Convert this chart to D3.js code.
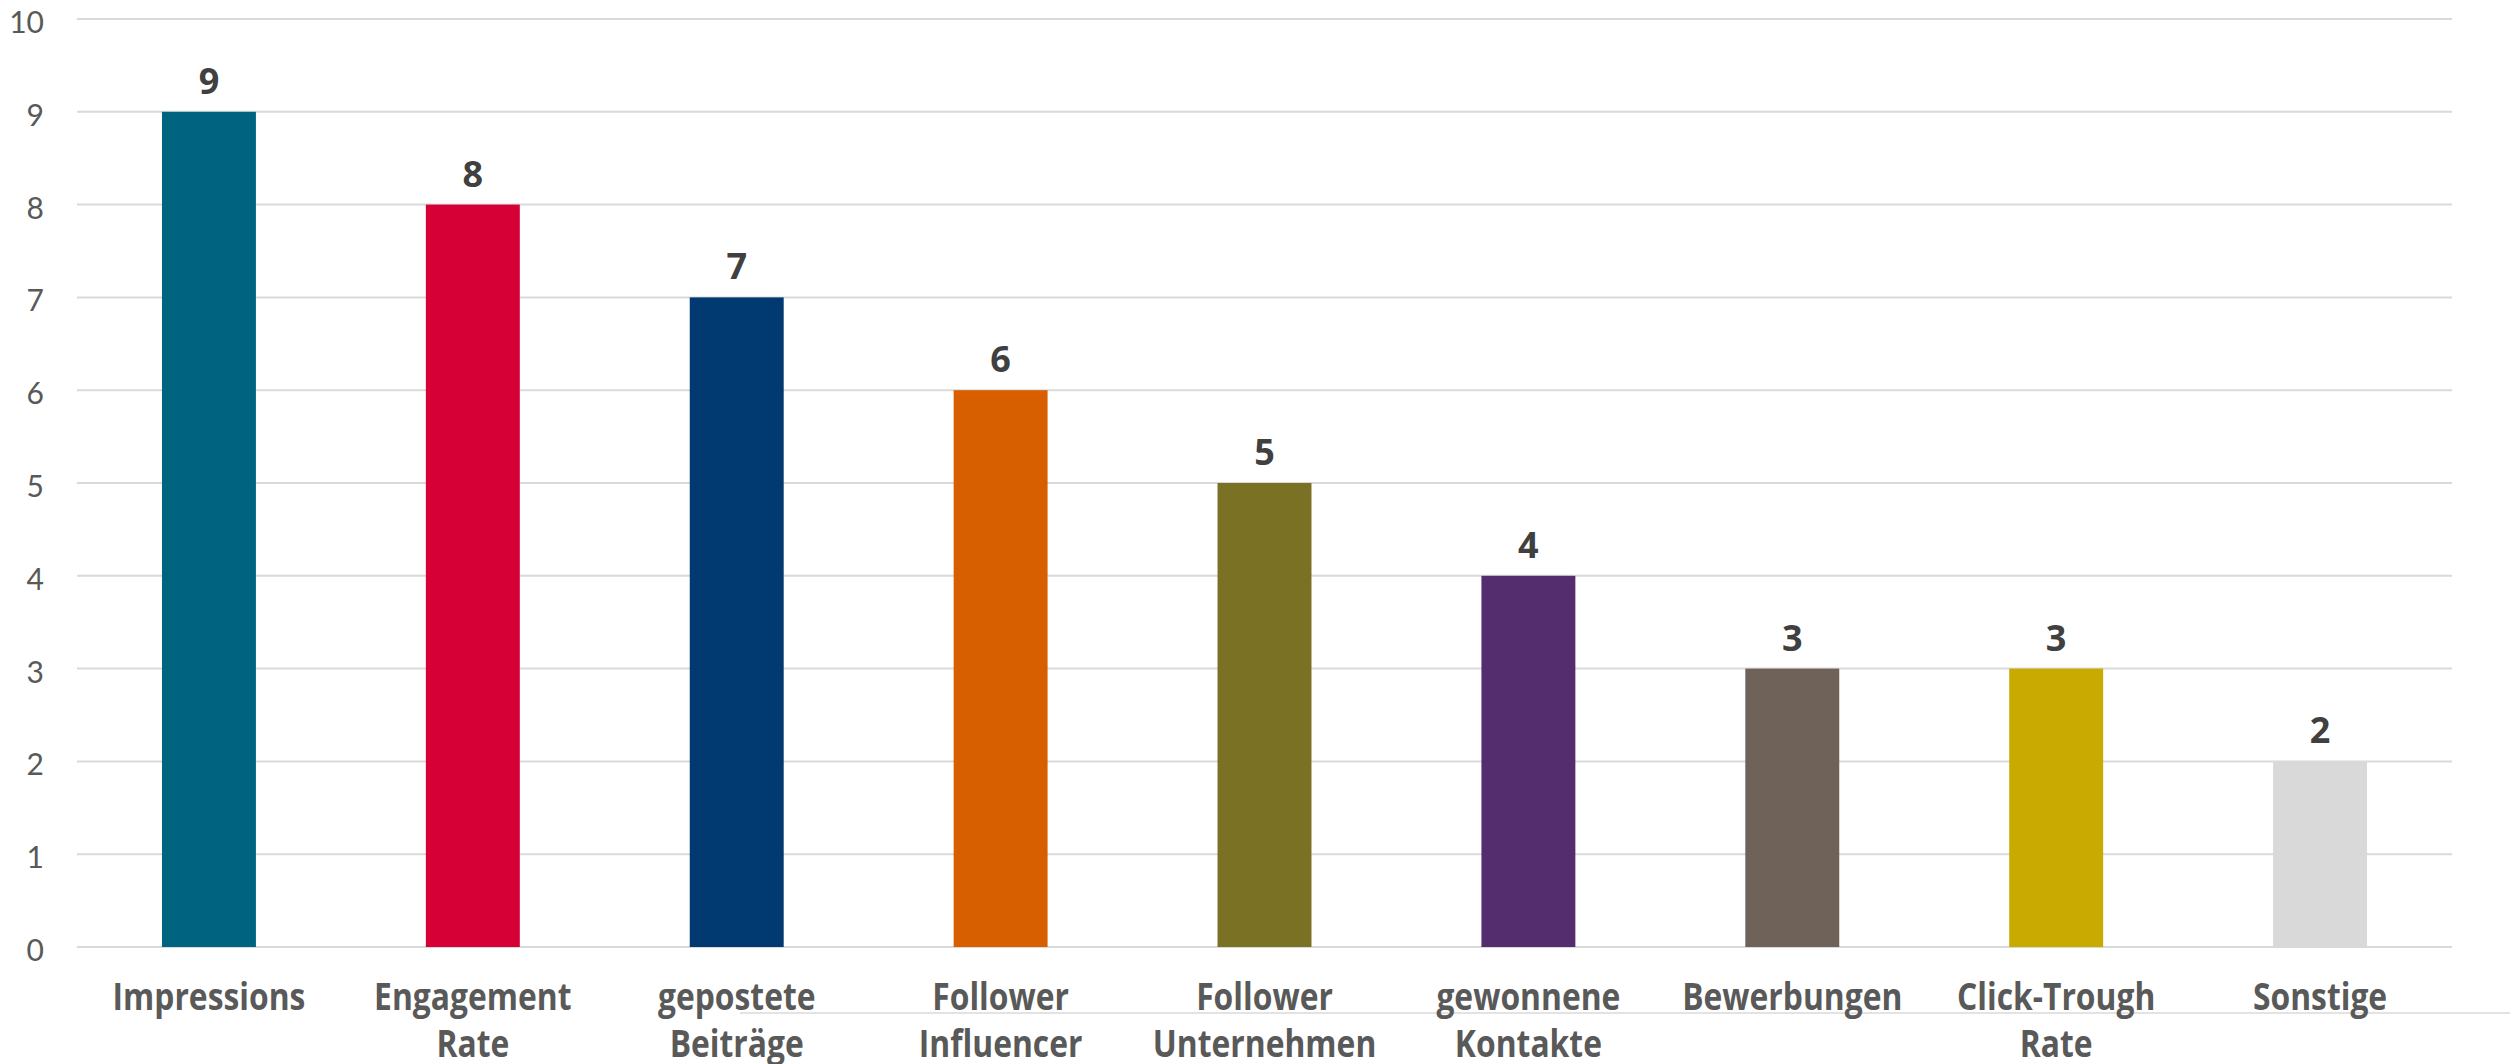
<!DOCTYPE html>
<html>
<head>
<meta charset="utf-8">
<script src="https://cdn.jsdelivr.net/npm/d3@7/dist/d3.min.js"></script>
<style>
  body { margin: 0; background: #fff; }
  svg { display: block; }
  .tick-label { font-family: Lato, "Open Sans", sans-serif; font-weight: 400; font-size: 30px; fill: #595959; }
  .value-label { font-family: "Open Sans", Lato, sans-serif; font-weight: 700; font-size: 36px; fill: #404040; }
  .cat-label { font-family: "Open Sans", sans-serif; font-weight: 700; font-size: 37px; fill: #595959; }
</style>
</head>
<body>
<div id="container"></div>
<script>
// chart data
let categories = ["Impressions", "Engagement\nRate", "gepostete\nBeiträge", "Follower\nInfluencer",
  "Follower\nUnternehmen", "gewonnene\nKontakte", "Bewerbungen", "Click-Trough\nRate", "Sonstige"];
let values = [9, 8, 7, 6, 5, 4, 3, 3, 2];
let colors = ["#00637f", "#d70036", "#003a70", "#d75f00", "#7a7124", "#532d6d", "#6e6259", "#c8aa00", "#d9d9d9"];
let yTicks = [0, 1, 2, 3, 4, 5, 6, 7, 8, 9, 10];

var width = 2510, height = 1064;
var plotLeft = 77, plotRight = 2452, plotTop = 19, plotBottom = 947;

var svg = d3.select("#container").append("svg")
  .attr("width", width)
  .attr("height", height);

var x = d3.scaleBand()
  .domain(categories)
  .range([plotLeft, plotRight])
  .paddingInner(0.644)
  .paddingOuter(0.322);

var y = d3.scaleLinear()
  .domain([0, 10])
  .range([plotBottom, plotTop]);

// gridlines
svg.append("g").selectAll("line")
  .data(yTicks)
  .enter().append("line")
  .attr("x1", plotLeft)
  .attr("x2", plotRight)
  .attr("y1", d => y(d))
  .attr("y2", d => y(d))
  .attr("stroke", "#d9d9d9")
  .attr("stroke-width", 2);

// stray line under the labels on the right
svg.append("line")
  .attr("x1", 740).attr("x2", width)
  .attr("y1", 1013).attr("y2", 1013)
  .attr("stroke", "#e3e3e3").attr("stroke-width", 2);

// y tick labels
svg.append("g").selectAll("text")
  .data(yTicks)
  .enter().append("text")
  .attr("class", "tick-label")
  .attr("x", 44)
  .attr("y", d => y(d) + 14)
  .attr("text-anchor", "end")
  .text(d => d);

// bars
svg.append("g").selectAll("rect")
  .data(values)
  .enter().append("rect")
  .attr("x", (d, i) => x(categories[i]))
  .attr("width", x.bandwidth())
  .attr("y", d => y(d))
  .attr("height", d => y(0) - y(d))
  .attr("fill", (d, i) => colors[i]);

// value labels
svg.append("g").selectAll("text")
  .data(values)
  .enter().append("text")
  .attr("class", "value-label")
  .attr("x", (d, i) => x(categories[i]) + x.bandwidth() / 2)
  .attr("y", d => y(d) - 18)
  .attr("text-anchor", "middle")
  .text(d => d);

// category labels (condensed look via horizontal squeeze)
var cat = svg.append("g").selectAll("text")
  .data(categories)
  .enter().append("text")
  .attr("class", "cat-label")
  .attr("text-anchor", "middle")
  .attr("transform", d => "translate(" + (x(d) + x.bandwidth() / 2) + ",1010) scale(0.86,1)");

cat.selectAll("tspan")
  .data(d => d.split("\n"))
  .enter().append("tspan")
  .attr("x", 0)
  .attr("dy", (d, i) => i ? 47 : 0)
  .text(d => d);
</script>
</body>
</html>
